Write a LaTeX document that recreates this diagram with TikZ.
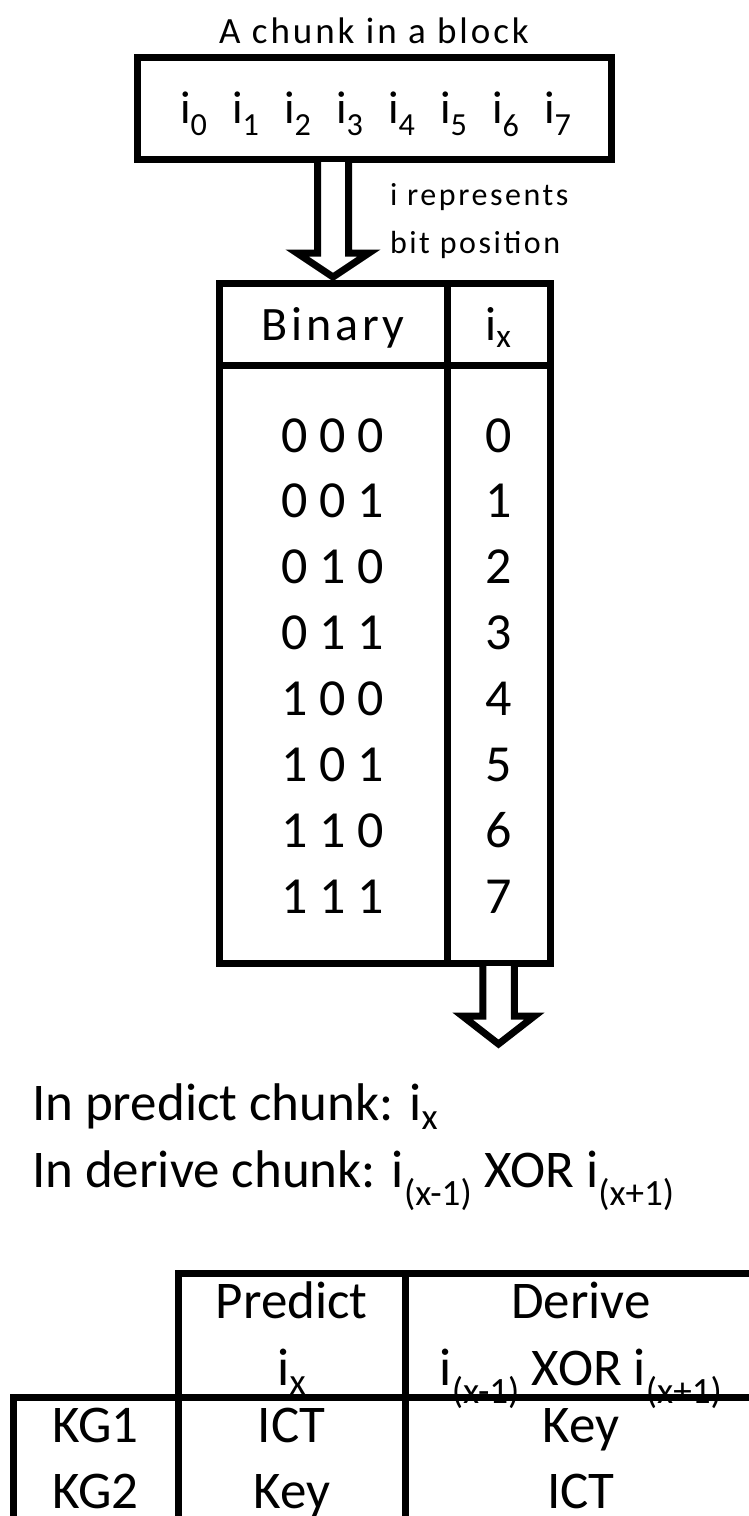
\documentclass[tikz,border=0pt]{standalone}
\usepackage{fontspec}
\setmainfont{Carlito}
\newfontfamily\spaced[LetterSpace=8]{Carlito}
\usetikzlibrary{calc}
\newcommand\fsz[1]{\fontsize{#1}{#1}\selectfont}
\begin{document}
\begin{tikzpicture}[x=1pt,y=-1pt,
  cell/.style={draw=black, line width=7pt, inner sep=0pt, outer sep=0pt, anchor=north west},
  txt/.style={inner sep=0pt, outer sep=0pt, anchor=base},
  blockarrow/.style={draw=black, fill=white, line width=7pt, line join=miter}]
\useasboundingbox (0,0) rectangle (749,1516);
\fill[white] (0,0) rectangle (749,1516);

% the chunk and its eight bits
\node[cell, minimum width=474, minimum height=102] (chunk) at (137,57) {};
\node[txt, font=\spaced\fsz{37}] (title) at (374,43) {A chunk in a block};
\foreach \k in {0,...,7}
  \node[txt, anchor=base west, font=\fsz{46}] (bit\k) at ({180+52*\k},123) {i\textsubscript{\k}};

% lookup table: binary index -> bit position
\node[cell, minimum width=228, minimum height=82] (binhead) at (219,283) {};
\node[cell, minimum width=103, minimum height=82] (ixhead) at (447,283) {};
\node[cell, minimum width=228, minimum height=598] (binbody) at (219,365) {};
\node[cell, minimum width=103, minimum height=598] (ixbody) at (447,365) {};
\node[txt, font=\spaced\fsz{48}] (binlabel) at (333,340) {Binary};
\node[txt, font=\fsz{48}] (ixlabel) at (498.5,340) {i\textsubscript{x}};
\foreach \a/\bb/\c [count=\n from 0] in {0/0/0,0/0/1,0/1/0,0/1/1,1/0/0,1/0/1,1/1/0,1/1/1} {
  \node[txt, font=\fsz{52}] (bin\n) at (333,{452+65.86*\n}) {\a\ \bb\ \c};
  \node[txt, font=\fsz{52}] (pos\n) at (498.5,{452+65.86*\n}) {\n};
}

% block arrow from the chunk into the table
\coordinate (a) at ($(binhead.north |- chunk.south)+(0,3)$);
\draw[blockarrow] ($(a)+(-15.5,0)$) -- ($(a)+(-15.5,91)$) -- ($(a)+(-36,91)$)
  -- ($(a)+(0,115)$) -- ($(a)+(36,91)$) -- ($(a)+(15.5,91)$) -- ($(a)+(15.5,0)$);
\node[txt, anchor=base west, font=\spaced\fsz{32}] (note1) at (390,205) {i represents};
\node[txt, anchor=base west, font=\spaced\fsz{32}] (note2) at (390,253) {bit position};

% block arrow out of the bit-position column
\coordinate (b) at ($(ixbody.south)+(0,3)$);
\draw[blockarrow] ($(b)+(-15.75,0)$) -- ($(b)+(-15.75,50)$) -- ($(b)+(-36,50)$)
  -- ($(b)+(0,78)$) -- ($(b)+(36,50)$) -- ($(b)+(15.75,50)$) -- ($(b)+(15.75,0)$);

% usage of the bit position
\node[txt, anchor=base west, font=\fsz{53}] (predline) at (32,1120) {In predict chunk: i\textsubscript{x}};
\node[txt, anchor=base west, font=\fsz{53}] (derline) at (32,1187) {In derive chunk: i\textsubscript{(x-1)} XOR i\textsubscript{(x+1)}};

% key generation table
\node[cell, minimum width=226.5, minimum height=124] (predhead) at (178.5,1273) {};
\node[cell, minimum width=400, minimum height=124] (derhead) at (405,1273) {};
\node[cell, minimum width=165.5, minimum height=200] (kgcol) at (13,1397) {};
\node[cell, minimum width=226.5, minimum height=200] (predcol) at (178.5,1397) {};
\node[cell, minimum width=400, minimum height=200] (dercol) at (405,1397) {};

\node[txt, font=\fsz{53}] (predt) at (291.75,1318) {Predict};
\node[txt, font=\fsz{53}] (predix) at (291.75,1385) {i\textsubscript{x}};
\node[txt, font=\fsz{53}] (dert) at (581,1318) {Derive};
\node[txt, font=\fsz{53}] (derix) at (581,1385) {i\textsubscript{(x-1)} XOR i\textsubscript{(x+1)}};
\node[txt, font=\fsz{53}] (kg1) at (95.75,1442) {KG1};
\node[txt, font=\fsz{53}] (kg2) at (95.75,1508) {KG2};
\node[txt, font=\fsz{53}] (kg1p) at (291.75,1442) {ICT};
\node[txt, font=\fsz{53}] (kg2p) at (291.75,1508) {Key};
\node[txt, font=\fsz{53}] (kg1d) at (581,1442) {Key};
\node[txt, font=\fsz{53}] (kg2d) at (581,1508) {ICT};
\end{tikzpicture}
\end{document}
